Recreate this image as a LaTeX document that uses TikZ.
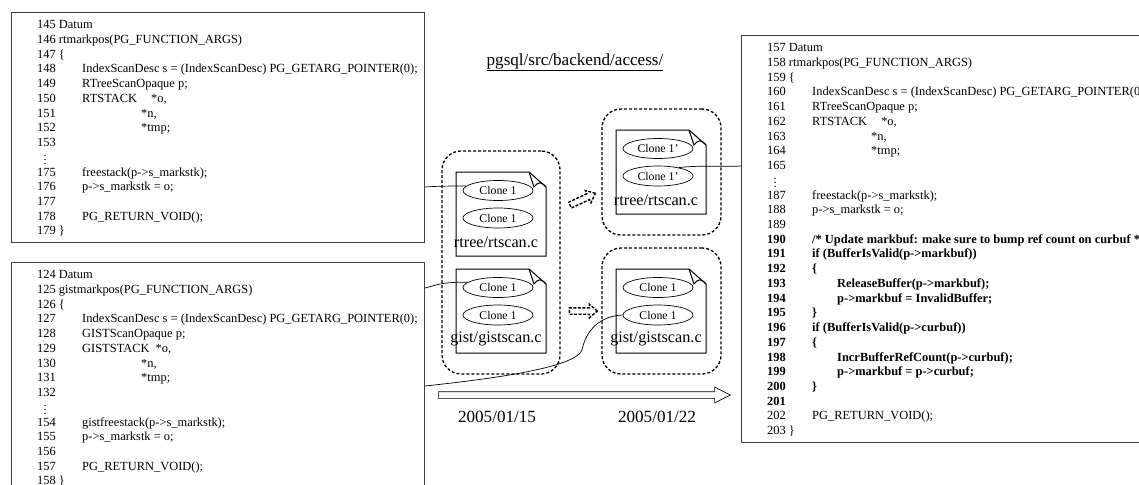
\documentclass[tikz,border=0pt]{standalone}
\usepackage{fontspec}
\setmainfont{Liberation Serif}
\usetikzlibrary{shapes.geometric, shapes.arrows, positioning}
\newcommand{\rowfull}[1]{\multicolumn{2}{@{}l@{}}{#1}\\}
\newcommand{\rowdots}{\multicolumn{2}{@{}l@{}}{\hspace*{6.5pt}\smash{\raisebox{-3pt}{$\vdots$}}}\\}
\tikzset{
  codebox/.style={draw=black!75, line width=1pt, anchor=north west, minimum width=413pt, inner sep=0pt},
  codetext/.style={anchor=north west, inner sep=0pt, font=\fontsize{12.44}{14.73}\selectfont},
  filedoc/.style={draw=black, line width=1pt},
  clone/.style={draw=black, ellipse, line width=.7pt, minimum width=70pt, minimum height=20pt, inner sep=0pt, font=\fontsize{11.8}{14}\selectfont},
  filename/.style={inner sep=0pt, font=\fontsize{16.2}{18}\selectfont},
  dategroup/.style={draw=black, dashed, dash pattern=on 3pt off 2pt, line width=1.3pt, rounded corners=19pt, inner sep=0pt},
  dasharrow/.style={draw=black, dash pattern=on 3pt off 1.5pt, line width=1.4pt, single arrow, minimum height=28pt, inner sep=2.5pt, single arrow head extend=3.5pt, single arrow tip angle=80},
  wire/.style={draw=black, line width=.7pt},
  plainlabel/.style={inner sep=0pt, font=\fontsize{17.1}{20}\selectfont}
}
\begin{document}
\begin{tikzpicture}[x=1pt, y=-1pt]
  \useasboundingbox (0,0) rectangle (1139,484);
  \clip (0,0) rectangle (1139,484);

  % code boxes
  \node[codebox, minimum height=230pt] (rtold) at (11,12) {};
  \node[codetext] (rtoldtext) at ([xshift=26pt, yshift=-6.2pt]rtold.north west) {%
    \begin{tabular}{@{}p{45pt}@{}l@{}}
      \rowfull{145 Datum}
      \rowfull{146 rtmarkpos(PG\_FUNCTION\_ARGS)}
      \rowfull{147 \{}
      148 & IndexScanDesc s = (IndexScanDesc) PG\_GETARG\_POINTER(0);\\
      149 & RTreeScanOpaque p;\\
      150 & RTSTACK\hspace{11pt} *o,\\
      151 & \hspace*{59pt}*n,\\
      152 & \hspace*{59pt}*tmp;\\
      153 & \\
      \rowdots
      175 & freestack(p->s\_markstk);\\
      176 & p->s\_markstk = o;\\
      177 & \\
      178 & PG\_RETURN\_VOID();\\
      \rowfull{179 \}}
    \end{tabular}};

  \node[codebox, minimum height=240pt] (gistold) at (11,262) {};
  \node[codetext] (gistoldtext) at ([xshift=26pt, yshift=-6.2pt]gistold.north west) {%
    \begin{tabular}{@{}p{45pt}@{}l@{}}
      \rowfull{124 Datum}
      \rowfull{125 gistmarkpos(PG\_FUNCTION\_ARGS)}
      \rowfull{126 \{}
      127 & IndexScanDesc s = (IndexScanDesc) PG\_GETARG\_POINTER(0);\\
      128 & GISTScanOpaque p;\\
      129 & GISTSTACK\hspace{3pt} *o,\\
      130 & \hspace*{59pt}*n,\\
      131 & \hspace*{59pt}*tmp;\\
      132 & \\
      \rowdots
      154 & gistfreestack(p->s\_markstk);\\
      155 & p->s\_markstk = o;\\
      156 & \\
      157 & PG\_RETURN\_VOID();\\
      \rowfull{158 \}}
    \end{tabular}};

  \node[codebox, minimum height=407pt] (rtnew) at (741,35) {};
  \node[codetext] (rtnewtext) at ([xshift=26pt, yshift=-6.2pt]rtnew.north west) {%
    \begin{tabular}{@{}p{45pt}@{}l@{}}
      \rowfull{157 Datum}
      \rowfull{158 rtmarkpos(PG\_FUNCTION\_ARGS)}
      \rowfull{159 \{}
      160 & IndexScanDesc s = (IndexScanDesc) PG\_GETARG\_POINTER(0);\\
      161 & RTreeScanOpaque p;\\
      162 & RTSTACK\hspace{11pt} *o,\\
      163 & \hspace*{59pt}*n,\\
      164 & \hspace*{59pt}*tmp;\\
      165 & \\
      \rowdots
      187 & freestack(p->s\_markstk);\\
      188 & p->s\_markstk = o;\\
      189 & \\
      \textbf{190} & \textbf{/* Update markbuf: make sure to bump ref count on curbuf */}\\
      \textbf{191} & \textbf{if (BufferIsValid(p->markbuf))}\\
      \textbf{192} & \textbf{\{}\\
      \textbf{193} & \hspace*{25pt}\textbf{ReleaseBuffer(p->markbuf);}\\
      \textbf{194} & \hspace*{25pt}\textbf{p->markbuf = InvalidBuffer;}\\
      \textbf{195} & \textbf{\}}\\
      \textbf{196} & \textbf{if (BufferIsValid(p->curbuf))}\\
      \textbf{197} & \textbf{\{}\\
      \textbf{198} & \hspace*{25pt}\textbf{IncrBufferRefCount(p->curbuf);}\\
      \textbf{199} & \hspace*{25pt}\textbf{p->markbuf = p->curbuf;}\\
      \textbf{200} & \textbf{\}}\\
      \textbf{201} & \\
      202 & PG\_RETURN\_VOID();\\
      \rowfull{203 \}}
    \end{tabular}};

  % dashed groups
  \node[dategroup, minimum width=118pt, minimum height=223pt] (oldgroup) at (501,262.5) {};
  \node[dategroup, minimum width=119pt, minimum height=126pt] (rtnewgroup) at (661.5,172) {};
  \node[dategroup, minimum width=119pt, minimum height=126pt] (gistnewgroup) at (661.5,311) {};

  % source files
  \foreach \fname/\fx/\fy/\flabel/\fclone in {
    rtscanold/456/172/{rtree/rtscan.c}/{Clone 1},
    gistscanold/456/269/{gist/gistscan.c}/{Clone 1},
    rtscannew/616/130/{rtree/rtscan.c}/{Clone 1’},
    gistscannew/616/269/{gist/gistscan.c}/{Clone 1}} {
    \begin{scope}[shift={(\fx,\fy)}]
      \draw[filedoc] (0,0) -- (73,0) -- (90,15) -- (90,84) -- (0,84) -- cycle;
      \draw[filedoc] (73,0) -- (78,15) .. controls (82,10) and (85,9) .. (90,15);
      \node[clone] (\fname a) at (42,18.5) {\fclone};
      \node[clone] (\fname b) at (42,46) {\fclone};
      \node[filename] (\fname name) at (40,70) {\flabel};
    \end{scope}
  }

  % connectors
  \draw[wire] ([yshift=-175pt]rtold.north east) .. controls +(15,-1) and +(-15,0) .. (rtscanolda.172);
  \draw[wire] ([yshift=-26pt]gistold.north east) .. controls +(15,-4) and +(-25,0) .. (gistscanolda.170);
  \draw[wire] ([yshift=-124pt]gistold.north east) .. controls (490,379) and (575,368) .. (582,350) .. controls (586,330) and (600,316) .. (gistscannewb.west);
  \draw[wire] (rtscannewb.22) .. controls (700,165) and (725,167) .. ([yshift=-131pt]rtnew.north west);

  % evolution arrows
  \node[dasharrow, rotate=25] (rtarrow) at (581,200) {};
  \node[dasharrow] (gistarrow) at (581.5,311) {};
  \node[draw=black, line width=.7pt, single arrow, minimum height=292pt, inner sep=3pt, single arrow head extend=4.5pt, single arrow tip angle=53] (timearrow) at (581,395) {};

  % labels
  \node[plainlabel] (pathlabel) at (575,62) {\underline{pgsql/src/backend/access/}};
  \node[plainlabel] (olddate) at (497,417) {2005/01/15};
  \node[plainlabel] (newdate) at (657,417) {2005/01/22};
\end{tikzpicture}
\end{document}
